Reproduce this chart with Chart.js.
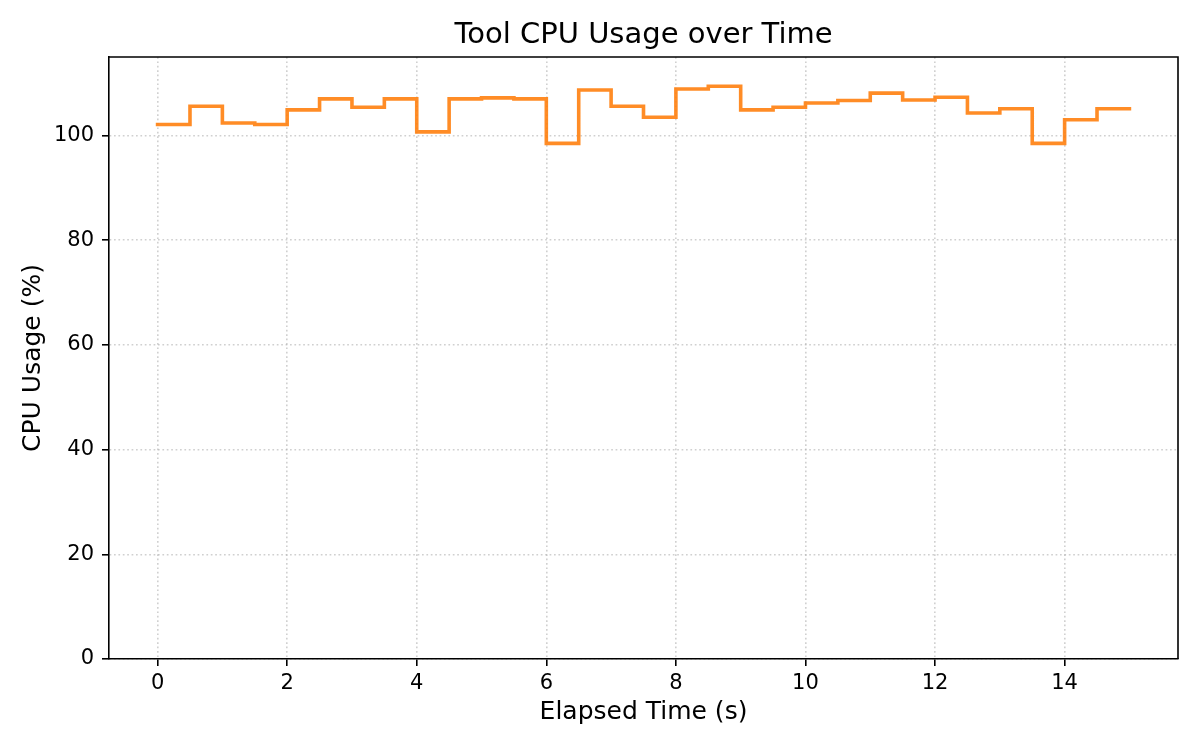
<!DOCTYPE html>
<html>
<head>
<meta charset="utf-8">
<title>Tool CPU Usage over Time</title>
<script src="https://cdn.jsdelivr.net/npm/chart.js@4.4.1/dist/chart.umd.min.js"></script>
<style>
  html, body { margin: 0; padding: 0; background: #fff; }
  #wrap { width: 1200px; height: 750px; }
</style>
</head>
<body>
<div id="wrap"><canvas id="cpu-chart" width="1200" height="750"></canvas></div>
<script>
// sample times (s) and cpu readings (%)
var elapsed = [0, 0.5, 1, 1.5, 2, 2.5, 3, 3.5, 4, 4.5, 5, 5.5, 6, 6.5, 7, 7.5,
               8, 8.5, 9, 9.5, 10, 10.5, 11, 11.5, 12, 12.5, 13, 13.5, 14, 14.5, 15];
var cpuUsage = [102.1, 105.6, 102.4, 102.1, 104.9, 107.0, 105.4, 107.0, 100.7, 107.0,
                107.2, 107.0, 98.5, 108.7, 105.6, 103.5, 108.9, 109.4, 104.9, 105.4,
                106.2, 106.7, 108.1, 106.8, 107.3, 104.3, 105.1, 98.5, 103.0, 105.1, 105.1];
var xTicks = [0, 2, 4, 6, 8, 10, 12, 14];
var yTicks = [0, 20, 40, 60, 80, 100];

var points = elapsed.map(function(t, i){ return {x: t, y: cpuUsage[i]}; });

var font = "'DejaVu Sans', sans-serif";
var gridColor = 'rgba(176,176,176,0.6)';
var axisColor = '#000';

// top and right spines, matplotlib style box
var frameBox = {
  id: 'frameBox',
  afterDraw: function(chart){
    var a = chart.chartArea, ctx = chart.ctx;
    ctx.save();
    ctx.strokeStyle = axisColor;
    ctx.lineWidth = 1.6;
    ctx.beginPath();
    ctx.moveTo(a.left, a.top);
    ctx.lineTo(a.right, a.top);
    ctx.lineTo(a.right, a.bottom);
    ctx.stroke();
    ctx.restore();
  }
};

new Chart(document.getElementById('cpu-chart').getContext('2d'), {
  type: 'line',
  data: {
    datasets: [{
      label: 'CPU Usage',
      data: points,
      stepped: 'before',
      borderColor: 'rgba(255,127,14,0.9)',
      borderWidth: 3.6,
      borderCapStyle: 'square',
      pointRadius: 0,
      fill: false
    }]
  },
  options: {
    responsive: false,
    animation: false,
    devicePixelRatio: 1,
    layout: { padding: { left: 0, right: 22, top: 0, bottom: 0 } },
    plugins: {
      legend: { display: false },
      tooltip: { enabled: false },
      title: {
        display: true,
        fullSize: false,
        text: 'Tool CPU Usage over Time',
        color: '#000',
        font: { family: font, size: 29, weight: 'normal' },
        padding: { top: 18, bottom: 4.2 }
      }
    },
    scales: {
      x: {
        type: 'linear',
        min: -0.75,
        max: 15.75,
        afterBuildTicks: function(scale){
          scale.ticks = xTicks.map(function(v){ return {value: v}; });
        },
        afterFit: function(scale){ scale.height = 91; },
        ticks: {
          color: '#000',
          font: { family: font, size: 21 },
          padding: 5,
          maxRotation: 0,
          autoSkip: false
        },
        grid: {
          color: gridColor,
          lineWidth: 1.6,
          tickLength: 7,
          tickColor: axisColor,
          tickWidth: 1.6
        },
        border: { color: axisColor, width: 1.6, dash: [1.7, 2.7] },
        title: {
          display: true,
          text: 'Elapsed Time (s)',
          color: '#000',
          font: { family: font, size: 25 },
          padding: { top: 0, bottom: 23 }
        }
      },
      y: {
        min: 0,
        max: 115,
        afterBuildTicks: function(scale){
          scale.ticks = yTicks.map(function(v){ return {value: v}; });
        },
        afterFit: function(scale){ scale.width = 109; },
        ticks: {
          color: '#000',
          font: { family: font, size: 21 },
          padding: 8
        },
        grid: {
          color: gridColor,
          lineWidth: 1.6,
          tickLength: 7,
          tickColor: axisColor,
          tickWidth: 1.6
        },
        border: { color: axisColor, width: 1.6, dash: [1.7, 2.7] },
        title: {
          display: true,
          text: 'CPU Usage (%)',
          color: '#000',
          font: { family: font, size: 25 },
          padding: { top: 18.5, bottom: 0 }
        }
      }
    }
  },
  plugins: [frameBox]
});
</script>
</body>
</html>
